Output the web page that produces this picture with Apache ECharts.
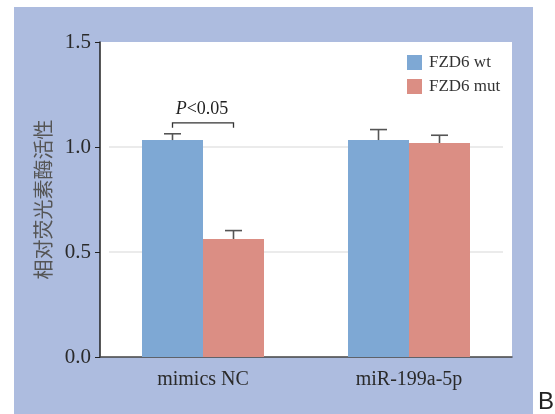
<!DOCTYPE html>
<html>
<head>
<meta charset="utf-8">
<script src="https://cdn.jsdelivr.net/npm/echarts@6/dist/echarts.min.js"></script>
<style>
  html, body { margin: 0; padding: 0; background: #fff; }
  #chart { width: 555px; height: 414px; }
</style>
</head>
<body>
<div id="chart"></div>
<script>
  // data
  var groups = ['mimics NC', 'miR-199a-5p'];
  var seriesNames = ['FZD6 wt', 'FZD6 mut'];
  var wtValues = [1.033, 1.033];
  var wtErrors = [0.03, 0.05];
  var mutValues = [0.562, 1.019];
  var mutErrors = [0.04, 0.037];
  var yTicks = [0, 0.5, 1.0, 1.5];
  // significance bracket: [group index, bracket top, leg end]
  var sigMarks = [[0, 1.115, 1.092]];
  var sigLabel = 'P<0.05';

  var blue = '#7ea8d4';
  var red = '#db8e84';
  var barW = 61;
  var serif = '"Liberation Serif", "Times New Roman", serif';

  function errSeries(name, values, errors, offset) {
    var rows = values.map(function (v, i) { return [i, v, errors[i]]; });
    return {
      name: name,
      type: 'custom',
      data: rows,
      encode: { x: 0, y: 1 },
      z: 5,
      renderItem: function (params, api) {
        var base = api.coord([api.value(0), api.value(1)]);
        var top = api.coord([api.value(0), api.value(1) + api.value(2)]);
        var x = base[0] + offset;
        var st = { stroke: '#555', lineWidth: 1.6 };
        return {
          type: 'group',
          children: [
            { type: 'line', shape: { x1: x, y1: base[1], x2: x, y2: top[1] }, style: st },
            { type: 'line', shape: { x1: x - 8.5, y1: top[1], x2: x + 8.5, y2: top[1] }, style: st }
          ]
        };
      }
    };
  }

  var chart = echarts.init(document.getElementById('chart'));

  var option = {
    animation: false,
    graphic: [
      { type: 'rect', z: -100, shape: { x: 14, y: 7, width: 519, height: 407 }, style: { fill: '#adbcdf' } },
      { type: 'text', z: 10, x: 538, y: 390, style: { text: 'B', font: '24px "Liberation Sans", Arial, sans-serif', fill: '#222' } }
    ],
    legend: {
      data: seriesNames,
      orient: 'vertical',
      left: 402,
      top: 49,
      itemWidth: 15,
      itemHeight: 15,
      itemGap: 7,
      icon: 'rect',
      textStyle: { fontFamily: serif, fontSize: 17, color: '#333', padding: [0, 0, 0, 2] }
    },
    grid: [
      { left: 100, right: 43, top: 42, bottom: 57, show: true, backgroundColor: '#fff', borderWidth: 0 },
      { left: 109, right: 52, top: 42, bottom: 57 }
    ],
    xAxis: [
      {
        type: 'category',
        gridIndex: 0,
        data: groups,
        axisLine: { lineStyle: { color: '#444', width: 1.5 } },
        axisTick: { alignWithLabel: true, length: 5, lineStyle: { color: '#444' } },
        axisLabel: { fontFamily: serif, fontSize: 20, color: '#2a2a2a', margin: 13 }
      },
      { type: 'value', gridIndex: 1, show: false }
    ],
    yAxis: [
      {
        type: 'value',
        gridIndex: 0,
        min: yTicks[0],
        max: yTicks[yTicks.length - 1],
        interval: 0.5,
        name: '相对荧光素酶活性',
        nameLocation: 'middle',
        nameGap: 45,
        nameTextStyle: { fontFamily: '"Noto Sans CJK SC", sans-serif', fontSize: 20, color: '#555' },
        axisLine: { show: true, lineStyle: { color: '#222', width: 1.5 } },
        axisTick: { show: true, length: 5, lineStyle: { color: '#222' } },
        axisLabel: {
          fontFamily: serif, fontSize: 21, color: '#2a2a2a', margin: 9,
          formatter: function (v) { return v.toFixed(1); }
        },
        splitLine: { show: false }
      },
      {
        type: 'value',
        gridIndex: 1,
        min: yTicks[0],
        max: yTicks[yTicks.length - 1],
        interval: 0.5,
        axisLine: { show: false },
        axisTick: { show: false },
        axisLabel: { show: false },
        splitLine: { show: true, lineStyle: { color: ['rgba(0,0,0,0)', '#e4e4e4', '#e4e4e4', 'rgba(0,0,0,0)'], width: 1.5 } }
      }
    ],
    series: [
      { name: seriesNames[0], type: 'bar', data: wtValues, barWidth: barW, barGap: '0%', itemStyle: { color: blue }, z: 3 },
      { name: seriesNames[1], type: 'bar', data: mutValues, barWidth: barW, barGap: '0%', itemStyle: { color: red }, z: 3 },
      errSeries('wt err', wtValues, wtErrors, -barW / 2),
      errSeries('mut err', mutValues, mutErrors, barW / 2),
      {
        name: 'sig',
        type: 'custom',
        data: sigMarks,
        encode: { x: 0, y: 1 },
        z: 5,
        renderItem: function (params, api) {
          var p = api.coord([api.value(0), api.value(1)]);
          var leg = api.coord([api.value(0), api.value(2)]);
          var x1 = p[0] - barW / 2, x2 = p[0] + barW / 2;
          var st = { stroke: '#333', lineWidth: 1.3, fill: null };
          return {
            type: 'group',
            children: [
              { type: 'polyline', shape: { points: [[x1, leg[1]], [x1, p[1]], [x2, p[1]], [x2, leg[1]]] }, style: st },
              {
                type: 'text', x: p[0] - 1, y: p[1] - 5,
                style: {
                  text: '{i|P}{n|' + sigLabel.slice(1) + '}',
                  align: 'center', verticalAlign: 'bottom',
                  rich: {
                    i: { fontFamily: serif, fontSize: 18, fontStyle: 'italic', fill: '#222' },
                    n: { fontFamily: serif, fontSize: 18, fill: '#222' }
                  }
                }
              }
            ]
          };
        }
      }
    ]
  };

  chart.setOption(option);
</script>
</body>
</html>
